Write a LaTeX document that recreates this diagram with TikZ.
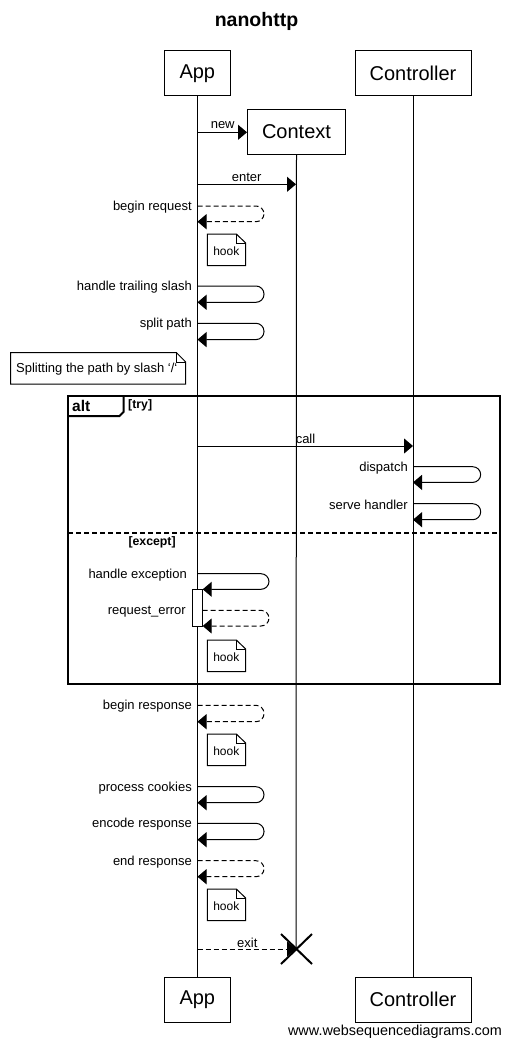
\documentclass[tikz,border=0pt]{standalone}
\usepackage{fontspec}
\setmainfont{Liberation Sans}
\usetikzlibrary{arrows.meta,calc}
\begin{document}
\begin{tikzpicture}[x=1pt,y=-1pt,
  actor/.style={draw,line width=1pt,minimum height=45pt,inner sep=0pt,font=\fontsize{20}{24}\selectfont},
  lbl/.style={inner sep=0pt,font=\fontsize{13}{15}\selectfont},
  life/.style={line width=1pt},
  msg/.style={line width=1pt,-{Triangle[length=9pt,width=15pt]}},
  ret/.style={msg,dash pattern=on 5pt off 3pt},
  selfm/.style={msg,rounded corners=8pt},
  selfr/.style={ret,rounded corners=8pt},
  notebox/.style={line width=1pt,fill=white},
  frame/.style={line width=2pt},
  guard/.style={inner sep=0pt,font=\fontsize{12.3}{14}\selectfont\bfseries}]
\useasboundingbox (0,0) rectangle (510,1047);

% title
\node[font=\fontsize{19.5}{22}\selectfont\bfseries] (title) at (256.5,21.5) {nanohttp};

% actors
\node[actor,minimum width=66pt] (appT) at (197.3,73.3) {App};
\node[actor,minimum width=116pt] (ctlT) at (413,73.3) {Controller};
\node[actor,minimum width=98pt] (ctx) at (296.5,131.7) {Context};
\node[actor,minimum width=66pt] (appB) at (197.3,999.5) {App};
\node[actor,minimum width=116pt] (ctlB) at (413,999.5) {Controller};

% lifelines
\coordinate (ctxEnd) at (296,949);
\draw[life] (appT.south) -- (appB.north);
\draw[life] (ctlT.south) -- (ctlB.north);
\draw[life] (ctx.south) -- (ctxEnd);

% new
\coordinate (m1a) at (197.5,132.3);
\draw[msg] (m1a) -- (ctx.west|-m1a);
\node[lbl] (l1) at (222.7,125) {new};

% enter
\coordinate (m2a) at (197.5,184.3);
\coordinate (m2b) at (296,184.3);
\draw[msg] (m2a) -- (m2b);
\node[lbl] (l2) at (246.7,177) {enter};

% begin request
\coordinate (s1) at (197.5,206);
\draw[selfr] (s1) -- ++(66.5,0) -- ++(0,15.7) -- ++(-66.5,0);
\node[lbl,anchor=east] (l3) at (192,207.3) {begin request};

% hook notes
\newcommand\hooknote[3]{%
  \draw[notebox] (#1,#2) -- (#1+29,#2) -- (#1+38.4,#2+9) -- (#1+38.4,#2+31.5) -- (#1,#2+31.5) -- cycle;
  \node[lbl,font=\fontsize{12}{14}\selectfont] (#3) at (#1+19,#2+17) {hook};
  \draw[line width=0.8pt] (#1+29,#2) -- (#1+29,#2+9) -- (#1+38.4,#2+9);}
\hooknote{207.3}{234}{h1}

% handle trailing slash
\coordinate (s2) at (197.5,286);
\draw[selfm] (s2) -- ++(66.5,0) -- ++(0,16.3) -- ++(-66.5,0);
\node[lbl,anchor=east] (l4) at (192,287.3) {handle trailing slash};

% split path
\coordinate (s3) at (197.5,323.3);
\draw[selfm] (s3) -- ++(66.5,0) -- ++(0,16.3) -- ++(-66.5,0);
\node[lbl,anchor=east] (l5) at (192,324.6) {split path};

% note splitting
\draw[notebox] (10.7,352.7) -- (176.5,352.7) -- (185.7,362) -- (185.7,384) -- (10.7,384) -- cycle;
\node[lbl,anchor=west] (n1) at (16,369.5) {Splitting the path by slash \symbol{96}/\symbol{96}};
\draw[line width=0.8pt] (176.5,352.7) -- (176.5,362) -- (185.7,362);

% alt frame
\draw[frame] (68.3,396) rectangle (500,684);
\draw[frame] (68.3,416) -- (119.5,416) -- (123.5,412) -- (123.5,396);
\node[inner sep=0pt,font=\fontsize{15.5}{18}\selectfont\bfseries,anchor=west] (alt) at (72,406) {alt};
\node[guard,anchor=west] (g1) at (128,405.5) {[try]};
\draw[frame,dash pattern=on 5pt off 3pt] (68.3,533.3) -- (500,533.3);
\node[guard,anchor=west] (g2) at (128.3,542) {[except]};

% call
\coordinate (c1) at (197.5,446);
\coordinate (c2) at (413,446);
\draw[msg] (c1) -- (c2);
\node[lbl] (l6) at (305.5,438.7) {call};

% dispatch
\coordinate (s4) at (413,466.7);
\draw[selfm] (s4) -- ++(67.7,0) -- ++(0,15.7) -- ++(-67.7,0);
\node[lbl,anchor=east] (l7) at (408,468) {dispatch};

% serve handler
\coordinate (s5) at (413,503.7);
\draw[selfm] (s5) -- ++(67.7,0) -- ++(0,16) -- ++(-67.7,0);
\node[lbl,anchor=east] (l8) at (408,505) {serve handler};

% activation
\draw[line width=1pt,fill=white] (192.3,589.3) rectangle (202.7,626);
\coordinate (s6) at (197.5,573.7);
\draw[selfm] (s6) -- (269,573.7) -- (269,589.3) -- (202.7,589.3);
\node[lbl,anchor=east] (l9) at (187,575) {handle exception};
\coordinate (s7) at (202.7,610.3);
\draw[selfr] (s7) -- (269,610.3) -- (269,626) -- (202.7,626);
\node[lbl,anchor=east] (l10) at (186,611.6) {request\_error};
\hooknote{207.3}{640}{h2}

% begin response
\coordinate (s8) at (197.5,705.3);
\draw[selfr] (s8) -- ++(66.5,0) -- ++(0,16.4) -- ++(-66.5,0);
\node[lbl,anchor=east] (l11) at (192,706.6) {begin response};
\hooknote{207.3}{734}{h3}

% process cookies
\coordinate (s9) at (197.5,786.7);
\draw[selfm] (s9) -- ++(66.5,0) -- ++(0,16) -- ++(-66.5,0);
\node[lbl,anchor=east] (l12) at (192,788) {process cookies};

% encode response
\coordinate (s10) at (197.5,823.3);
\draw[selfm] (s10) -- ++(66.5,0) -- ++(0,16.4) -- ++(-66.5,0);
\node[lbl,anchor=east] (l13) at (192,824.6) {encode response};

% end response
\coordinate (s11) at (197.5,860.7);
\draw[selfr] (s11) -- ++(66.5,0) -- ++(0,16) -- ++(-66.5,0);
\node[lbl,anchor=east] (l14) at (192,862) {end response};
\hooknote{207.3}{889}{h4}

% exit
\coordinate (e1) at (197.5,949);
\draw[ret] (e1) -- (ctxEnd);
\node[lbl] (l15) at (247.3,942.5) {exit};
\draw[line width=2pt] ($(ctxEnd)+(-15,-15)$) -- ($(ctxEnd)+(16,15)$)
  ($(ctxEnd)+(-15,15)$) -- ($(ctxEnd)+(16,-15)$);

% footer
\node[lbl,anchor=east,font=\fontsize{14.4}{16}\selectfont] (web) at (502,1031.5) {www.websequencediagrams.com};
\end{tikzpicture}
\end{document}
